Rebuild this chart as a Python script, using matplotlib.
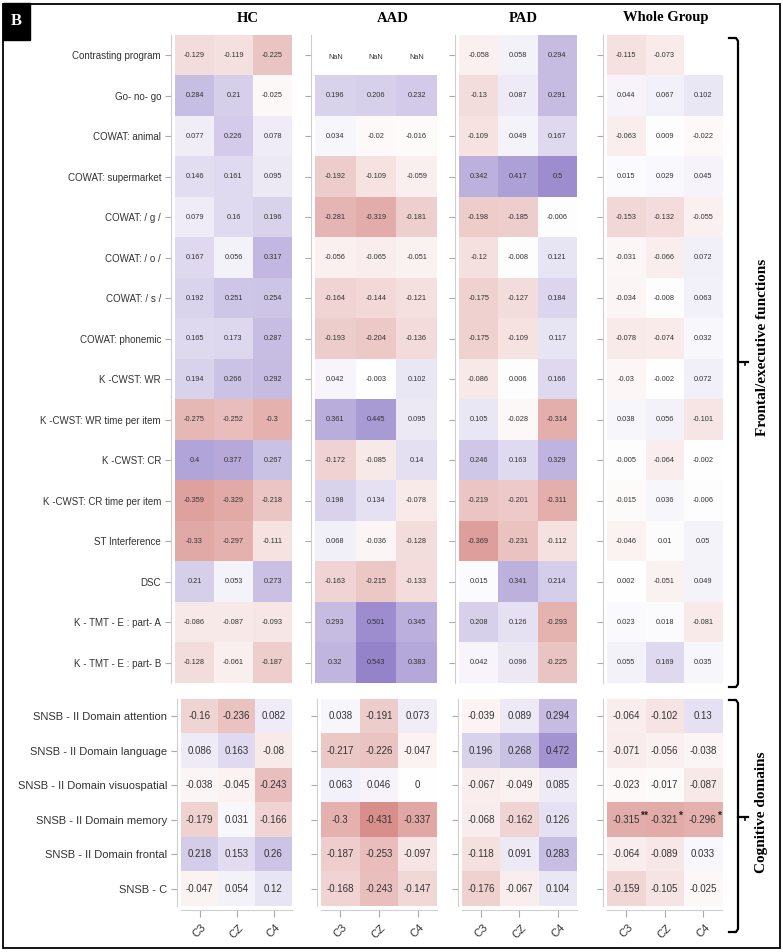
import numpy as np
import matplotlib.pyplot as plt
from matplotlib.colors import LinearSegmentedColormap
from matplotlib.patches import Rectangle
from matplotlib.lines import Line2D

nan = np.nan

electrodes = ["C3", "CZ", "C4"]
groups = ["HC", "AAD", "PAD", "Whole Group"]

exec_rows = ["Contrasting program", "Go- no- go", "COWAT: animal", "COWAT: supermarket",
             "COWAT: / g /", "COWAT: / o /", "COWAT: / s /", "COWAT: phonemic",
             "K -CWST: WR", "K -CWST: WR time per item", "K -CWST: CR",
             "K -CWST: CR time per item", "ST Interference", "DSC",
             "K - TMT - E : part- A", "K - TMT - E : part- B"]

cog_rows = ["SNSB - II Domain attention", "SNSB - II Domain language",
            "SNSB - II Domain visuospatial", "SNSB - II Domain memory",
            "SNSB - II Domain frontal", "SNSB - C"]

hc_exec = [[-0.129, -0.119, -0.225], [0.284, 0.21, -0.025], [0.077, 0.226, 0.078],
           [0.146, 0.161, 0.095], [0.079, 0.16, 0.196], [0.167, 0.056, 0.317],
           [0.192, 0.251, 0.254], [0.165, 0.173, 0.287], [0.194, 0.266, 0.292],
           [-0.275, -0.252, -0.3], [0.4, 0.377, 0.267], [-0.359, -0.329, -0.218],
           [-0.33, -0.297, -0.111], [0.21, 0.053, 0.273], [-0.086, -0.087, -0.093],
           [-0.128, -0.061, -0.187]]
aad_exec = [[nan, nan, nan], [0.196, 0.206, 0.232], [0.034, -0.02, -0.016],
            [-0.192, -0.109, -0.059], [-0.281, -0.319, -0.181], [-0.056, -0.065, -0.051],
            [-0.164, -0.144, -0.121], [-0.193, -0.204, -0.136], [0.042, -0.003, 0.102],
            [0.361, 0.445, 0.095], [-0.172, -0.085, 0.14], [0.198, 0.134, -0.078],
            [0.068, -0.036, -0.128], [-0.163, -0.215, -0.133], [0.293, 0.501, 0.345],
            [0.32, 0.543, 0.383]]
pad_exec = [[-0.058, 0.058, 0.294], [-0.13, 0.087, 0.291], [-0.109, 0.049, 0.167],
            [0.342, 0.417, 0.5], [-0.198, -0.185, -0.006], [-0.12, -0.008, 0.121],
            [-0.175, -0.127, 0.184], [-0.175, -0.109, 0.117], [-0.086, 0.006, 0.166],
            [0.105, -0.028, -0.314], [0.246, 0.163, 0.329], [-0.219, -0.201, -0.311],
            [-0.369, -0.231, -0.112], [0.015, 0.341, 0.214], [0.208, 0.126, -0.293],
            [0.042, 0.096, -0.225]]
whole_exec = [[-0.115, -0.073, nan], [0.044, 0.067, 0.102], [-0.063, 0.009, -0.022],
              [0.015, 0.029, 0.045], [-0.153, -0.132, -0.055], [-0.031, -0.066, 0.072],
              [-0.034, -0.008, 0.063], [-0.078, -0.074, 0.032], [-0.03, -0.002, 0.072],
              [0.038, 0.056, -0.101], [-0.005, -0.064, -0.002], [-0.015, 0.036, -0.006],
              [-0.046, 0.01, 0.05], [0.002, -0.051, 0.049], [0.023, 0.018, -0.081],
              [0.055, 0.169, 0.035]]

hc_cog = [[-0.16, -0.236, 0.082], [0.086, 0.163, -0.08], [-0.038, -0.045, -0.243],
          [-0.179, 0.031, -0.166], [0.218, 0.153, 0.26], [-0.047, 0.054, 0.12]]
aad_cog = [[0.038, -0.191, 0.073], [-0.217, -0.226, -0.047], [0.063, 0.046, 0],
           [-0.3, -0.431, -0.337], [-0.187, -0.253, -0.097], [-0.168, -0.243, -0.147]]
pad_cog = [[-0.039, 0.089, 0.294], [0.196, 0.268, 0.472], [-0.067, -0.049, 0.085],
           [-0.068, -0.162, 0.126], [-0.118, 0.091, 0.283], [-0.176, -0.067, 0.104]]
whole_cog = [[-0.064, -0.102, 0.13], [-0.071, -0.056, -0.038], [-0.023, -0.017, -0.087],
             [-0.315, -0.321, -0.296], [-0.064, -0.089, 0.033], [-0.159, -0.105, -0.025]]
# significance marks (row, col, stars) for the whole group
whole_cog_stars = [(3, 0, "**"), (3, 1, "*"), (3, 2, "*")]
aad_nan_row = 0

cmap = LinearSegmentedColormap.from_list(
    "rp", [(0.0, (200/255, 95/255, 90/255)), (0.5, (1, 1, 1)), (1.0, (135/255, 115/255, 195/255))])
cmap.set_bad("white")

W, H = 783, 952
fig = plt.figure(figsize=(W/100, H/100), dpi=100)
plt.rcParams['font.family'] = ['Liberation Sans', 'DejaVu Sans']
serif = ['Liberation Serif', 'DejaVu Serif']
grey = "#cfcfcf"
txt = "#333333"


def px_ax(x0, x1, y0, y1):
    return fig.add_axes([x0/W, 1 - y1/H, (x1 - x0)/W, (y1 - y0)/H])


def panel(ax, data, rows, fs, show_labels, bottom, lab_fs, stars=(), nan_text=None):
    arr = np.array(data, dtype=float)
    ax.imshow(np.ma.masked_invalid(arr), cmap=cmap, vmin=-0.62, vmax=0.62,
              aspect="auto", interpolation="nearest")
    for i in range(arr.shape[0]):
        for j in range(arr.shape[1]):
            v = arr[i, j]
            if np.isnan(v):
                if nan_text is not None and i == nan_text:
                    ax.text(j, i + 0.05, "NaN", ha="center", va="center", fontsize=fs, color=txt)
                continue
            ax.text(j, i, f"{v:g}", ha="center", va="center", fontsize=fs, color=txt)
    for i, j, s in stars:
        ax.text(j + 0.36, i - 0.1, s, ha="left", va="center", fontsize=7.5,
                color="#222222", fontweight="bold")
    for s in ["top", "right"]:
        ax.spines[s].set_visible(False)
    ax.spines["left"].set_position(("outward", 3))
    ax.spines["left"].set_color(grey)
    ax.set_yticks(range(len(rows)))
    ax.set_yticklabels(rows if show_labels else [], fontsize=lab_fs, color=txt)
    ax.tick_params(axis="y", length=4, color="#aaaaaa", pad=3)
    if bottom:
        ax.spines["bottom"].set_position(("outward", 3))
        ax.spines["bottom"].set_color(grey)
        ax.set_xticks(range(3))
        ax.set_xticklabels(electrodes, rotation=45, fontsize=8, color=txt)
        ax.tick_params(axis="x", length=5, color="#aaaaaa", pad=4)
    else:
        ax.spines["bottom"].set_visible(False)
        ax.set_xticks([])


exec_data = [hc_exec, aad_exec, pad_exec, whole_exec]
cog_data = [hc_cog, aad_cog, pad_cog, whole_cog]
top_x = [(175, 292), (315, 437), (459, 577), (607, 722)]
bot_x = [(181, 292), (321, 437), (462, 577), (607, 722)]
head_x = [248, 393, 523, 666]

for k in range(4):
    ax = px_ax(top_x[k][0], top_x[k][1], 35, 683)
    panel(ax, exec_data[k], exec_rows, 5.3, k == 0, False, 7,
          nan_text=aad_nan_row if k == 1 else None)
    ax = px_ax(bot_x[k][0], bot_x[k][1], 699, 906)
    panel(ax, cog_data[k], cog_rows, 7, k == 0, True, 8,
          stars=whole_cog_stars if k == 3 else ())
    fig.text(head_x[k]/W, 1 - 18/H, groups[k], ha="center", va="center",
             fontsize=10.5, fontweight="bold", family=serif)

# outer frame and panel letter
fig.patches.append(Rectangle((3/W, 4/H), 777/W, 944/H, transform=fig.transFigure,
                             fill=False, lw=1.3, ec="black"))
fig.patches.append(Rectangle((3/W, 1 - 40/H), 27/W, 37/H, transform=fig.transFigure,
                             fc="black", ec="black"))
fig.text(16/W, 1 - 21/H, "B", color="white", fontsize=12, fontweight="bold",
         family=serif, ha="center", va="center")


def brace(y0, y1, ym, label, ly):
    xs = [729, 736, 738, 738, 738, 736, 729]
    ys = [y0, y0, y0 + 3, ym, y1 - 3, y1, y1]
    fig.add_artist(Line2D([x/W for x in xs], [1 - y/H for y in ys], color="black", lw=1.6,
                          transform=fig.transFigure))
    fig.add_artist(Line2D([738/W, 748/W], [1 - ym/H, 1 - ym/H], color="black", lw=1.6,
                          transform=fig.transFigure))
    fig.add_artist(Line2D([745/W, 745/W], [1 - ym/H, 1 - (ym + 3)/H], color="black", lw=1.2,
                          transform=fig.transFigure))
    fig.text(762/W, 1 - ly/H, label, rotation=90, ha="center", va="center",
             fontsize=11, fontweight="bold", family=serif)


brace(38, 687, 362, "Frontal/executive functions", 347)
brace(700, 932, 817, "Cognitive domains", 812)

fig.savefig("out.png", dpi=100)
